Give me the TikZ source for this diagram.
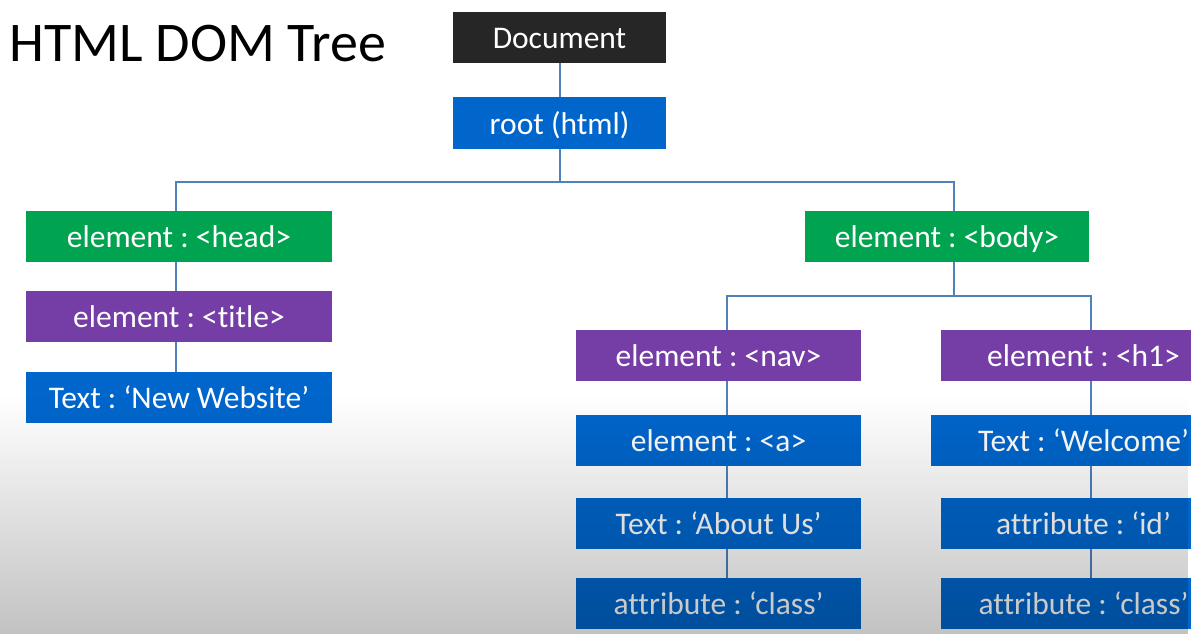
\documentclass[tikz,border=0pt]{standalone}
\usepackage{fontspec}
\setmainfont{Carlito}[Ligatures={NoCommon}]
\usetikzlibrary{fadings}
\definecolor{docblack}{RGB}{38,38,38}
\definecolor{boxblue}{RGB}{0,102,204}
\definecolor{boxgreen}{RGB}{0,163,80}
\definecolor{boxpurple}{RGB}{117,62,166}
\definecolor{linkblue}{RGB}{79,129,189}
\tikzset{
  box/.style={rectangle, inner sep=0pt, minimum height=51pt, text=white,
    text height=24pt, text depth=2pt,
    font=\fontsize{31.5}{34}\selectfont},
  docbox/.style={box, fill=docblack},
  bluebox/.style={box, fill=boxblue},
  greenbox/.style={box, fill=boxgreen},
  purplebox/.style={box, fill=boxpurple},
  link/.style={draw=linkblue, line width=2pt},
}
\begin{document}
\frenchspacing
\begin{tikzpicture}[x=1pt,y=-1pt]
\useasboundingbox (0,0) rectangle (1191,634);
\clip (0,0) rectangle (1191,634);
\fill[white] (0,0) rectangle (1191,634);

\node[anchor=base west, font=\fontsize{56}{62}\selectfont, text=black] (ttl) at (6,62) {HTML DOM Tree};

\node[docbox, minimum width=213pt] (doc) at (559.5,37.5) {Document};
\node[bluebox, minimum width=213pt, minimum height=52pt] (root) at (559.5,123) {root (html)};

\node[greenbox, minimum width=306pt] (head) at (179,236.5) {element : <head>};
\node[purplebox, minimum width=306pt] (title) at (179,316.5) {element : <title>};
\node[bluebox, minimum width=306pt] (newweb) at (179,397.5) {Text : ‘New Website’};

\node[greenbox, minimum width=284pt] (body) at (947,236.5) {element : <body>};

\node[purplebox, minimum width=285pt] (nav) at (718.5,355.5) {element : <nav>};
\node[bluebox, minimum width=285pt] (a) at (718.5,440.5) {element : <a>};
\node[bluebox, minimum width=285pt] (about) at (718.5,523.5) {Text : ‘About Us’};
\node[bluebox, minimum width=285pt] (cls1) at (718.5,603.5) {attribute : ‘class’};

\node[purplebox, minimum width=285pt] (h1) at (1083.5,355.5) {element : <h1>};
\node[bluebox, minimum width=305pt] (welcome) at (1083.5,440.5) {Text : ‘Welcome’};
\node[bluebox, minimum width=285pt] (id) at (1083.5,523.5) {attribute : ‘id’};
\node[bluebox, minimum width=285pt] (cls2) at (1083.5,603.5) {attribute : ‘class’};

% connectors
\draw[link] (doc.south) -- (root.north);
\coordinate (rj) at (559.5,182);
\draw[link] (root.south) -- (rj);
\draw[link] ([xshift=-3pt]head.north) |- (rj) -| ([xshift=7pt]body.north);
\draw[link] ([xshift=-3pt]head.south) -- ([xshift=-3pt]title.north);
\draw[link] ([xshift=-3pt]title.south) -- ([xshift=-3pt]newweb.north);

\coordinate (bj) at (954,296);
\draw[link] ([xshift=7pt]body.south) -- (bj);
\draw[link] ([xshift=8.5pt]nav.north) |- (bj) -| ([xshift=7.5pt]h1.north);
\draw[link] ([xshift=8.5pt]nav.south) -- ([xshift=8.5pt]a.north);
\draw[link] ([xshift=8.5pt]a.south) -- ([xshift=8.5pt]about.north);
\draw[link] ([xshift=8.5pt]about.south) -- ([xshift=8.5pt]cls1.north);
\draw[link] ([xshift=7.5pt]h1.south) -- ([xshift=7.5pt]welcome.north);
\draw[link] ([xshift=7.5pt]welcome.south) -- ([xshift=7.5pt]id.north);
\draw[link] ([xshift=7.5pt]id.south) -- ([xshift=7.5pt]cls2.north);

% grey shading overlay at the bottom
\fill[black, opacity=0.24, path fading=north] (0,395) rectangle (1191,634);
\end{tikzpicture}
\end{document}
